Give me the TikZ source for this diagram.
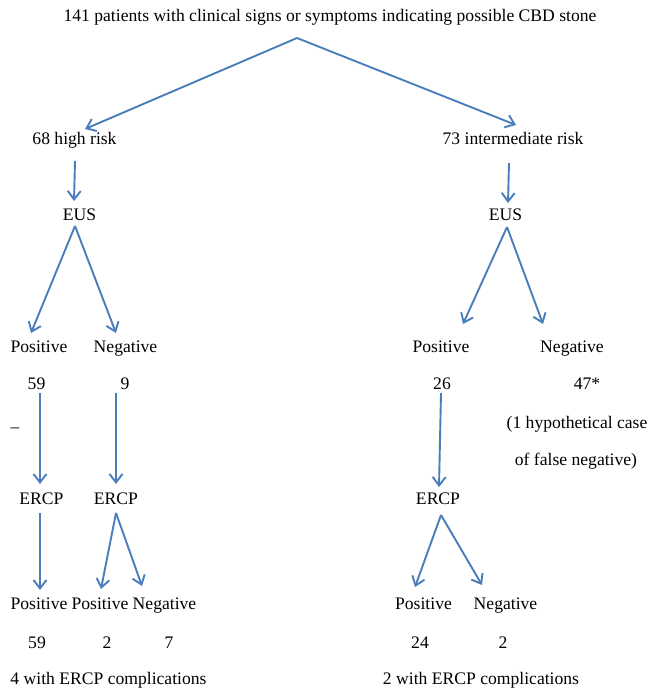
\documentclass[tikz,border=0pt]{standalone}
\usepackage{fontspec}
\setmainfont{Liberation Serif}
\usetikzlibrary{arrows.meta}
\definecolor{arrowblue}{HTML}{4A7EBB}
\begin{document}
\begin{tikzpicture}[x=1pt,y=-1pt,
  lbl/.style={anchor=base,inner sep=0pt,font=\fontsize{17.6}{20}\selectfont,text=black},
  arr/.style={draw=arrowblue,line width=1.9pt,-{Straight Barb[length=8.5pt,width=13pt]}}]
\useasboundingbox[fill=white] (0,0) rectangle (649,692);
% texts
\node[lbl] (top) at (330,22) {141 patients with clinical signs or symptoms indicating possible CBD stone};
\node[lbl] (hr) at (74.5,145) {68 high risk};
\node[lbl] (ir) at (513,145) {73 intermediate risk};
\node[lbl] (eusL) at (79.5,221) {EUS};
\node[lbl] (eusR) at (505.5,221) {EUS};
\node[lbl] (posL) at (39,352) {Positive};
\node[lbl] (negL) at (125.5,352) {Negative};
\node[lbl] (posR) at (441,352) {Positive};
\node[lbl] (negR) at (572,352) {Negative};
\node[lbl] (n59) at (36.5,389) {59};
\node[lbl] (n9) at (125,389) {9};
\node[lbl] (n26) at (442,389) {26};
\node[lbl] (n47) at (587,389) {47*};
\node[lbl] (dash) at (15,432) {–};
\node[lbl] (hyp1) at (577,428) {(1 hypothetical case};
\node[lbl] (hyp2) at (576,465) {of false negative)};
\node[lbl] (ercpL) at (41.5,504) {ERCP};
\node[lbl] (ercpM) at (116,504) {ERCP};
\node[lbl] (ercpR) at (438,504) {ERCP};
\node[lbl] (bp1) at (39,609) {Positive};
\node[lbl] (bp2) at (100,609) {Positive};
\node[lbl] (bn2) at (164.5,609) {Negative};
\node[lbl] (bp3) at (423.5,609) {Positive};
\node[lbl] (bn3) at (505.5,609) {Negative};
\node[lbl] (c59) at (37,648) {59};
\node[lbl] (c2) at (107,648) {2};
\node[lbl] (c7) at (169,648) {7};
\node[lbl] (c24) at (420,648) {24};
\node[lbl] (c2r) at (503,648) {2};
\node[lbl] (compL) at (108.5,684) {4 with ERCP complications};
\node[lbl] (compR) at (481,684) {2 with ERCP complications};
% connector points
\coordinate (apex) at (297,38);
\coordinate (hrIn) at (85,129);
\coordinate (irIn) at (516,125);
\coordinate (hrOut) at (75,161);
\coordinate (eusLIn) at (74,201);
\coordinate (irOut) at (509,163);
\coordinate (eusRIn) at (508,203);
\coordinate (eusLOut) at (75,226);
\coordinate (posLIn) at (31,333);
\coordinate (negLIn) at (116,333);
\coordinate (eusROut) at (507,227);
\coordinate (posRIn) at (463,324);
\coordinate (negRIn) at (543,324);
\coordinate (n59Out) at (40,393);
\coordinate (ercpLIn) at (40,484);
\coordinate (n9Out) at (116,393);
\coordinate (ercpMIn) at (116,484);
\coordinate (n26Out) at (441,393);
\coordinate (ercpRIn) at (439,487);
\coordinate (ercpLOut) at (40,513);
\coordinate (bp1In) at (40,590);
\coordinate (ercpMOut) at (116,513);
\coordinate (bp2In) at (101,589);
\coordinate (bn2In) at (142,586);
\coordinate (ercpROut) at (441,515);
\coordinate (bp3In) at (415,587);
\coordinate (bn3In) at (482,585);
% connectors
\draw[arr] (apex) -- (hrIn);
\draw[arr] (apex) -- (irIn);
\draw[arr] (hrOut) -- (eusLIn);
\draw[arr] (irOut) -- (eusRIn);
\draw[arr] (eusLOut) -- (posLIn);
\draw[arr] (eusLOut) -- (negLIn);
\draw[arr] (eusROut) -- (posRIn);
\draw[arr] (eusROut) -- (negRIn);
\draw[arr] (n59Out) -- (ercpLIn);
\draw[arr] (n9Out) -- (ercpMIn);
\draw[arr] (n26Out) -- (ercpRIn);
\draw[arr] (ercpLOut) -- (bp1In);
\draw[arr] (ercpMOut) -- (bp2In);
\draw[arr] (ercpMOut) -- (bn2In);
\draw[arr] (ercpROut) -- (bp3In);
\draw[arr] (ercpROut) -- (bn3In);
\end{tikzpicture}
\end{document}
